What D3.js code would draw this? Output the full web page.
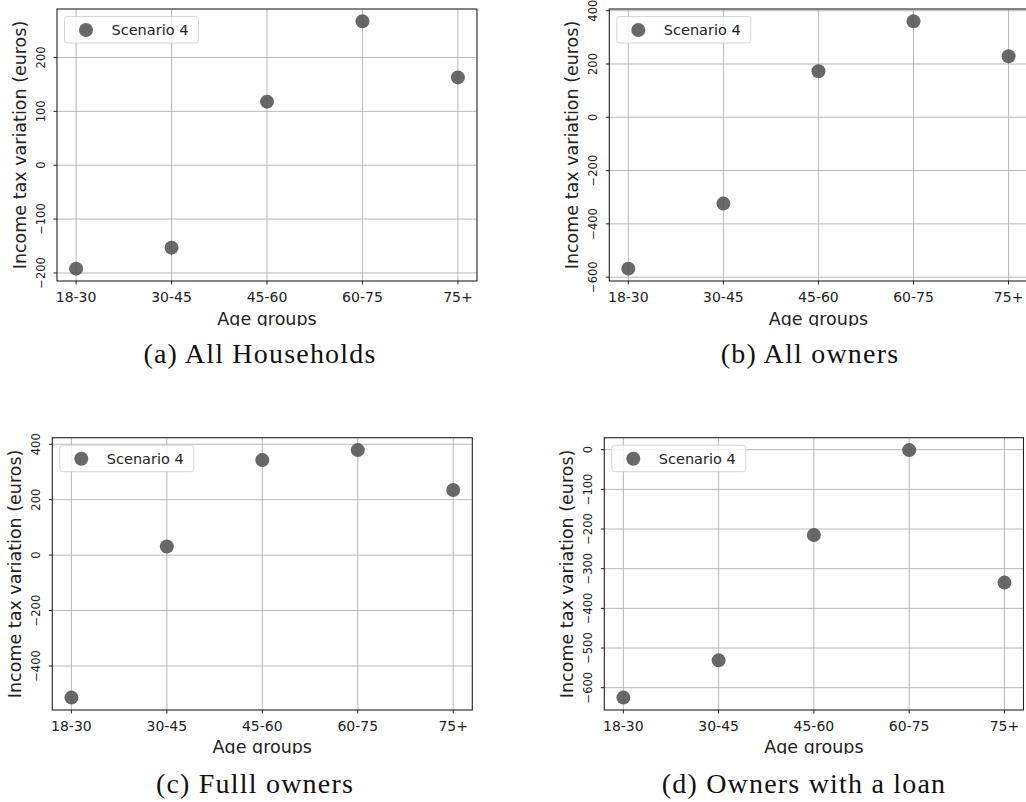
<!DOCTYPE html>
<html>
<head>
<meta charset="utf-8">
<script src="https://cdn.jsdelivr.net/npm/d3@7"></script>
<style>
  html, body { margin: 0; padding: 0; background: #fff; overflow: hidden; }
  svg { display: block; }
</style>
</head>
<body>
<svg id="chart" width="1026" height="802"></svg>
<script>
// ---- Data ----
const ageGroups = ["18-30", "30-45", "45-60", "60-75", "75+"];
const seriesName = "Scenario 4";

const allHouseholds = [-192, -153, 118, 267, 163];
const allOwners = [-568, -324, 173, 360, 229];
const fullOwners = [-514, 31, 343, 379, 235];
const ownersWithLoan = [-625, -531, -215, -1, -335];

const ticksA = [-200, -100, 0, 100, 200];
const ticksB = [-600, -400, -200, 0, 200, 400];
const ticksC = [-400, -200, 0, 200, 400];
const ticksD = [-600, -500, -400, -300, -200, -100, 0];

const captions = ["(a) All Households", "(b) All owners", "(c) Fulll owners", "(d) Owners with a loan"];
const xLabel = "Age groups";
const yLabel = "Income tax variation (euros)";

// ---- Layout ----
const panels = [
  { values: allHouseholds, ticks: ticksA, caption: captions[0], box: { l: 57, t: 9, r: 477, b: 281 }, clipY: 326, capX: 260, capY: 363 },
  { values: allOwners, ticks: ticksB, caption: captions[1], box: { l: 609.3, t: 9, r: 1027.6, b: 281 }, clipY: 326, capX: 810, capY: 363 },
  { values: fullOwners, ticks: ticksC, caption: captions[2], box: { l: 52.3, t: 437.7, r: 472.3, b: 710 }, clipY: 754, capX: 255, capY: 793 },
  { values: ownersWithLoan, ticks: ticksD, caption: captions[3], box: { l: 604.3, t: 437.7, r: 1023.5, b: 710 }, clipY: 754, capX: 804, capY: 793 }
];

const svg = d3.select("#chart");
svg.append("rect").attr("width", 1026).attr("height", 802).attr("fill", "#fff");
const defs = svg.append("defs");

const markerFill = "#4d4d4d";
const markerOpacity = 0.85;
const gridColor = "#b0b0b0";
const textColor = "#222";
const fmt = d3.format("");

panels.forEach((p, i) => {
  const { l, t, r, b } = p.box;
  const n = ageGroups.length;
  const x = d3.scaleLinear().domain([-0.05 * (n - 1), (n - 1) * 1.05]).range([l, r]);
  const ext = d3.extent(p.values);
  const pad = (ext[1] - ext[0]) * 0.05;
  const y = d3.scaleLinear().domain([ext[0] - pad, ext[1] + pad]).range([b, t]);

  const g = svg.append("g");

  const clipId = "clip" + i;
  defs.append("clipPath").attr("id", clipId)
    .append("rect").attr("x", l).attr("y", t).attr("width", r - l).attr("height", b - t);
  const labelClip = "lclip" + i;
  defs.append("clipPath").attr("id", labelClip)
    .append("rect").attr("x", l - 60).attr("y", t - 20).attr("width", r - l + 120).attr("height", p.clipY - t + 20);

  const plot = g.append("g").attr("clip-path", `url(#${clipId})`);

  // grid
  plot.selectAll(".gy").data(p.ticks).join("line")
    .attr("x1", l).attr("x2", r)
    .attr("y1", d => y(d)).attr("y2", d => y(d))
    .attr("stroke", gridColor).attr("stroke-width", 0.9);
  plot.selectAll(".gx").data(ageGroups).join("line")
    .attr("x1", (d, k) => x(k)).attr("x2", (d, k) => x(k))
    .attr("y1", t).attr("y2", b)
    .attr("stroke", gridColor).attr("stroke-width", 0.9);

  // points
  plot.selectAll(".pt").data(p.values).join("circle")
    .attr("cx", (d, k) => x(k)).attr("cy", d => y(d)).attr("r", 7)
    .attr("fill", markerFill).attr("fill-opacity", markerOpacity);

  // frame
  g.append("rect").attr("x", l).attr("y", t).attr("width", r - l).attr("height", b - t)
    .attr("fill", "none").attr("stroke", "#222").attr("stroke-width", 1.1);

  // x ticks
  const xt = g.append("g");
  ageGroups.forEach((lab, k) => {
    xt.append("line").attr("x1", x(k)).attr("x2", x(k)).attr("y1", b).attr("y2", b + 3.5)
      .attr("stroke", "#222").attr("stroke-width", 1);
    xt.append("text").attr("x", x(k)).attr("y", b + 16)
      .attr("text-anchor", "middle").attr("dominant-baseline", "central")
      .attr("font-family", "DejaVu Sans").attr("font-size", 14).attr("fill", textColor)
      .text(lab);
  });

  // y ticks
  const yt = g.append("g");
  p.ticks.forEach(v => {
    yt.append("line").attr("x1", l - 3.5).attr("x2", l).attr("y1", y(v)).attr("y2", y(v))
      .attr("stroke", "#222").attr("stroke-width", 1);
    yt.append("text")
      .attr("transform", `translate(${l - 16},${y(v)}) rotate(-90)`)
      .attr("text-anchor", "middle").attr("dominant-baseline", "central")
      .attr("font-family", "DejaVu Sans").attr("font-size", 11.5).attr("fill", textColor)
      .text(fmt(v));
  });

  // axis labels
  g.append("text")
    .attr("transform", `translate(${l - 37},${(t + b) / 2}) rotate(-90)`)
    .attr("text-anchor", "middle").attr("dominant-baseline", "central")
    .attr("font-family", "DejaVu Sans").attr("font-size", 17.5).attr("fill", textColor)
    .text(yLabel);
  g.append("text")
    .attr("clip-path", `url(#${labelClip})`)
    .attr("x", (l + r) / 2).attr("y", p.clipY - 1)
    .attr("text-anchor", "middle")
    .attr("font-family", "DejaVu Sans").attr("font-size", 17.5).attr("fill", textColor)
    .text(xLabel);

  // legend
  const lg = g.append("g").attr("transform", `translate(${l + 7.5},${t + 7.5})`);
  lg.append("rect").attr("width", 134).attr("height", 26.5).attr("rx", 3)
    .attr("fill", "#fff").attr("fill-opacity", 0.8)
    .attr("stroke", "#d6d6d6").attr("stroke-width", 1);
  lg.append("circle").attr("cx", 21.5).attr("cy", 13.5).attr("r", 7)
    .attr("fill", markerFill).attr("fill-opacity", markerOpacity);
  lg.append("text").attr("x", 47).attr("y", 13.5)
    .attr("dominant-baseline", "central")
    .attr("font-family", "DejaVu Sans").attr("font-size", 14.5).attr("fill", textColor)
    .text(seriesName);

  // caption
  svg.append("text").attr("x", p.capX).attr("y", p.capY)
    .attr("text-anchor", "middle")
    .attr("font-family", "Liberation Serif").attr("font-size", 28)
    .attr("letter-spacing", 1.2)
    .attr("fill", "#111")
    .text(p.caption);
});
</script>
</body>
</html>
